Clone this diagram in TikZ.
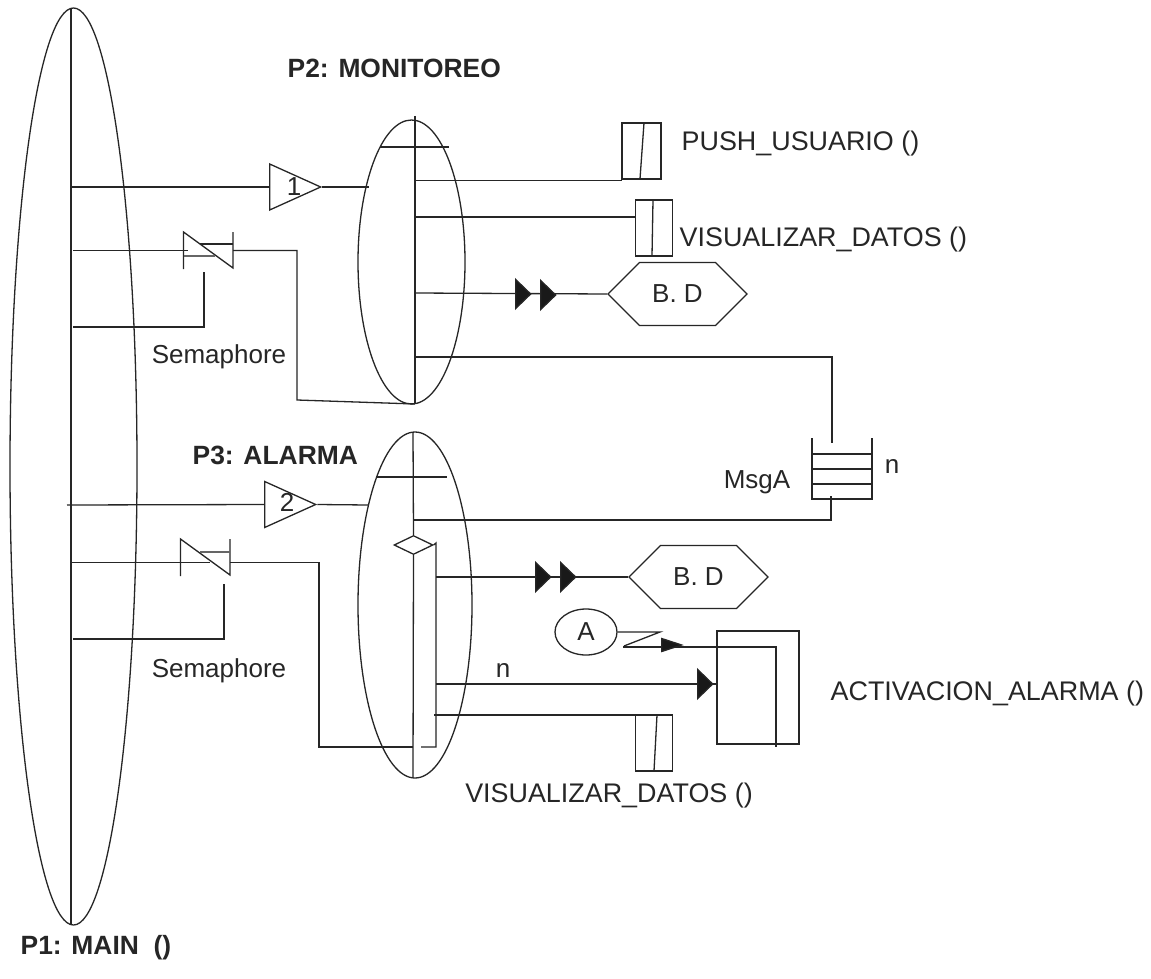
\documentclass[tikz,border=0pt]{standalone}
\usepackage{fontspec}
\setmainfont{Liberation Sans}
\usetikzlibrary{shapes.geometric,shapes.symbols}
\begin{document}
\begin{tikzpicture}[
    x=1pt,y=-1pt,color=black!85,
    every path/.style={line width=1.3pt},
    every node/.style={font=\fontsize{26}{28}\selectfont},
    title/.style={font=\fontsize{26.4}{28}\selectfont\bfseries,inner sep=0pt},
    lab/.style={inner sep=0pt},
    caps/.style={inner sep=0pt,font=\fontsize{26.9}{28}\selectfont},
    proc/.style={ellipse,draw,inner sep=0pt},
    tri/.style={isosceles triangle,isosceles triangle apex angle=48,isosceles triangle stretches,draw,inner sep=0pt,minimum width=46pt,minimum height=51pt,anchor=west},
    tip/.style={isosceles triangle,isosceles triangle apex angle=54,isosceles triangle stretches,draw,fill=black!90,inner sep=0pt,minimum width=29pt,minimum height=15pt,anchor=west},
    bd/.style={signal,signal to=west and east,draw,inner sep=0pt,minimum width=139pt,minimum height=63pt},
    ctrl/.style={rectangle,draw,inner sep=0pt,minimum width=37pt,minimum height=56pt}
]
\useasboundingbox (0,0) rectangle (1151,979);
\fill[white] (0,0) rectangle (1151,979);

% processes
\node[proc,minimum width=127pt,minimum height=917pt] (main)  at (73.5,466.5) {};
\node[proc,minimum width=107pt,minimum height=284pt] (mon)   at (411.5,262)  {};
\node[proc,minimum width=114pt,minimum height=346pt] (alarm) at (415,605)    {};

% titles
\node[title,anchor=west] (tMon)   at (287,68)  {P2: MONITOREO};
\node[title,anchor=west] (tAlarm) at (192,455) {P3: ALARMA};
\node[title,anchor=west] (tMain)  at (20,948)  {P1: MAIN\ \ ()};

% spines
\coordinate (mainT) at (71,8);
\coordinate (mainB) at (71,925);
\coordinate (monT)  at (415,116);
\coordinate (monB)  at (415,404);
\coordinate (alaT)  at (413,432);
\coordinate (alaB)  at (413,777);
\draw (mainT) -- (mainB);
\draw (monT) -- (monB);
\coordinate (monBarL) at (380,147);
\coordinate (monBarR) at (449,147);
\draw (monBarL) -- (monBarR);
\coordinate (alaBarL) at (377,477);
\coordinate (alaBarR) at (447,477);
\draw (alaBarL) -- (alaBarR);

% triggers
\node[tri] (t1) at (269,187) {};
\node[tri] (t2) at (264,504.5) {};
\node[lab] (n1) at (294,187) {1};
\node[lab] (n2) at (287,502) {2};
\coordinate (m1) at (71,187);
\coordinate (p1) at (369,187);
\coordinate (m2) at (67,505);
\coordinate (p2) at (368,505);
\draw (m1) -- (t1.west);
\draw (t1.apex) -- (p1);
\draw (m2) -- (t2.west);
\draw (t2.apex) -- (p2);

% semaphore of P2
\coordinate (sA) at (183.5,232);
\coordinate (sB) at (183.5,269);
\coordinate (sC) at (233,268);
\coordinate (sD) at (233,232);
\draw (sB) -- (sA) -- (sC) -- (sD);
\coordinate (sE) at (200,244);
\coordinate (sF) at (233,244);
\coordinate (sG) at (184,256);
\coordinate (sH) at (215,256);
\draw (sE) -- (sF);
\draw[line width=1.6pt,draw=black!60] (sG) -- (sH);
\coordinate (sIn)  at (73,250.5);
\coordinate (sInE) at (188,250.5);
\coordinate (sOut) at (233,250.5);
\coordinate (sBend) at (297,250.5);
\coordinate (sLow) at (297,400);
\draw (sIn) -- (sInE);
\draw (sOut) -- (sBend) -- (sLow) -- (monB);
\coordinate (gIn) at (73,327);
\coordinate (gUp) at (204,327);
\coordinate (gEnd) at (204,272);
\draw (gIn) -- (gUp) -- (gEnd);
\node[lab] (sem1) at (219,357) {Semaphore};

% semaphore of P3
\coordinate (uA) at (180.5,539);
\coordinate (uB) at (180.5,576);
\coordinate (uC) at (230,575);
\coordinate (uD) at (230,539);
\draw (uB) -- (uA) -- (uC) -- (uD);
\coordinate (uE) at (200,552);
\coordinate (uF) at (230,552);
\draw[line width=1.6pt,draw=black!60] (uE) -- (uF);
\coordinate (uIn)  at (71,562.5);
\coordinate (uInE) at (210,562.5);
\coordinate (uOut) at (230,562.5);
\coordinate (uBend) at (319,562.5);
\coordinate (uLow) at (319,747);
\coordinate (uEnd) at (413,747);
\draw (uIn) -- (uInE);
\draw (uOut) -- (uBend) -- (uLow) -- (uEnd);
\coordinate (hIn) at (73,639);
\coordinate (hUp) at (224,639);
\coordinate (hEnd) at (224,584);
\draw (hIn) -- (hUp) -- (hEnd);
\node[lab] (sem2) at (219,671) {Semaphore};

% P2 outputs
\node[ctrl,minimum width=39pt] (push) at (641.5,151) {};
\coordinate (pushT) at (644,123);
\coordinate (pushB) at (640,179);
\draw (pushT) -- (pushB);
\node[caps,anchor=west] (lPush) at (681,144) {PUSH\_USUARIO ()};
\coordinate (mo1) at (415,180.5);
\coordinate (po1) at (622,180.5);
\draw (mo1) -- (po1);

\node[ctrl] (vis1) at (654,228) {};
\coordinate (vis1T) at (653,200);
\coordinate (vis1B) at (652,256);
\draw (vis1T) -- (vis1B);
\node[caps,anchor=west] (lVis1) at (679,240) {VISUALIZAR\_DATOS ()};
\coordinate (mo2) at (415,217);
\draw (mo2) -- (vis1.west |- mo2);

\node[bd] (db1) at (677.5,294) {B. D};
\coordinate (mo3) at (415,293);
\draw (mo3) -- (db1.west);
\node[tip] (a1) at (515,294) {};
\node[tip] (a2) at (540,295) {};

% queue
\coordinate (qTL) at (812,438);
\coordinate (qBL) at (812,499);
\coordinate (qBR) at (872,499);
\coordinate (qTR) at (872,438);
\draw (qTL) -- (qBL) -- (qBR) -- (qTR);
\foreach \yy/\nm in {454/a,469/b,484/c}{
  \coordinate (q\nm L) at (812,\yy);
  \coordinate (q\nm R) at (872,\yy);
  \draw (q\nm L) -- (q\nm R);
}
\node[lab] (lMsg) at (757,482) {MsgA};
\node[lab] (lN)   at (892,467) {n};
\coordinate (mo4) at (415,357);
\coordinate (qUp) at (832,357);
\coordinate (qIn) at (832,443);
\draw (mo4) -- (qUp) -- (qIn);
\coordinate (ao1) at (413,520);
\coordinate (qDn) at (831,520);
\coordinate (qOut) at (831,496);
\draw (ao1) -- (qDn) -- (qOut);

% P3 select
\node[diamond,draw,aspect=2,inner sep=0pt,minimum width=39pt,minimum height=19pt] (sel) at (413.5,545) {};
\draw (alaT) -- (sel.north);
\draw (sel.south) -- (alaB);
\coordinate (bTop) at (436,543);
\coordinate (bLow) at (436,747);
\coordinate (bEnd) at (421,747);
\draw (sel.east) -- (bTop) -- (bLow) -- (bEnd);

% P3 outputs
\node[bd] (db2) at (698.5,577) {B. D};
\coordinate (ao2) at (436,577);
\draw (ao2) -- (db2.west);
\node[tip] (a3) at (535,577) {};
\node[tip] (a4) at (560,577) {};

\node[rectangle,draw,inner sep=0pt,minimum width=82pt,minimum height=113pt] (act) at (758,687.5) {};
\node[caps,anchor=west] (lAct) at (830,694) {ACTIVACION\_ALARMA ()};
\coordinate (ao3) at (436,684);
\draw (ao3) -- (act.west |- ao3);
\node[tip] (a5) at (697,684) {};
\node[lab] (ln2) at (503,670) {n};

\node[ellipse,draw,inner sep=0pt,minimum width=62pt,minimum height=46pt] (evA) at (586,632) {A};
\coordinate (zA) at (660,632);
\coordinate (zB) at (624,646);
\coordinate (zC) at (623,647);
\coordinate (zD) at (776,647);
\coordinate (zE) at (776,747);
\draw (evA.east) -- (zA) -- (zB);
\draw (zC) -- (zD) -- (zE);
\node[tip,minimum width=13pt,minimum height=20pt,isosceles triangle apex angle=36] (a6) at (661,645) {};

\node[ctrl] (vis2) at (654,743) {};
\coordinate (vis2T) at (657,715);
\coordinate (vis2B) at (654,771);
\draw (vis2T) -- (vis2B);
\node[caps] (lVis2) at (609,796) {VISUALIZAR\_DATOS ()};
\coordinate (ao4) at (434,715);
\coordinate (po4) at (672,715);
\draw (ao4) -- (po4);
\end{tikzpicture}
\end{document}
